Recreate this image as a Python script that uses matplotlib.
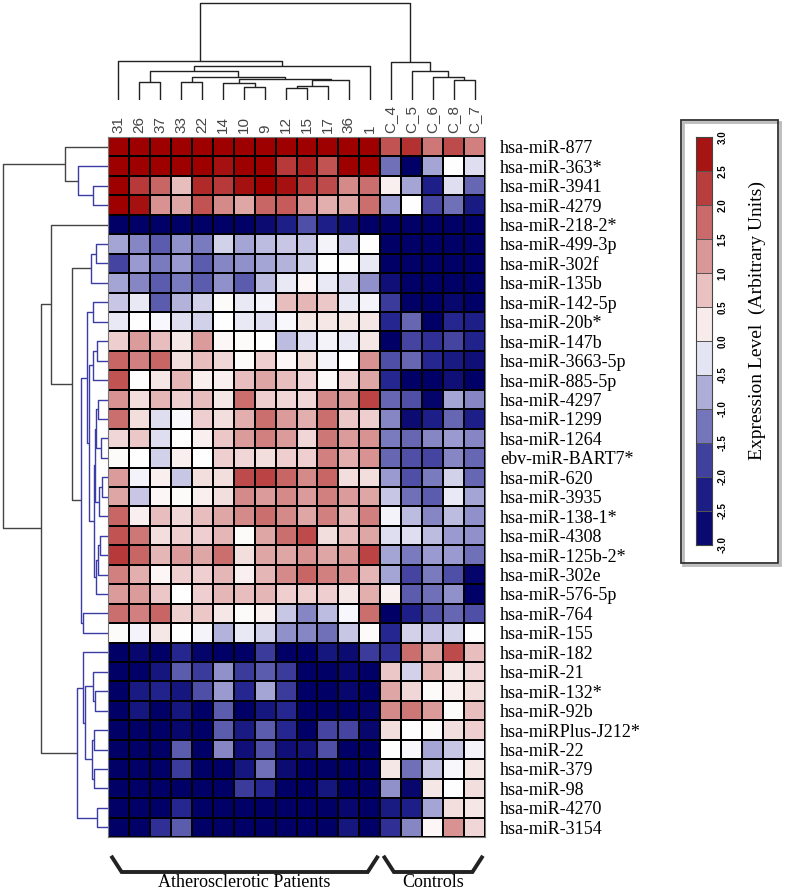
import numpy as np
import matplotlib
matplotlib.use('Agg')
import matplotlib.pyplot as plt
from matplotlib.colors import LinearSegmentedColormap
from matplotlib.patches import Rectangle

# ---- data -------------------------------------------------------------
row_labels = ['hsa-miR-877', 'hsa-miR-363*', 'hsa-miR-3941', 'hsa-miR-4279',
              'hsa-miR-218-2*', 'hsa-miR-499-3p', 'hsa-miR-302f', 'hsa-miR-135b',
              'hsa-miR-142-5p', 'hsa-miR-20b*', 'hsa-miR-147b', 'hsa-miR-3663-5p',
              'hsa-miR-885-5p', 'hsa-miR-4297', 'hsa-miR-1299', 'hsa-miR-1264',
              'ebv-miR-BART7*', 'hsa-miR-620', 'hsa-miR-3935', 'hsa-miR-138-1*',
              'hsa-miR-4308', 'hsa-miR-125b-2*', 'hsa-miR-302e', 'hsa-miR-576-5p',
              'hsa-miR-764', 'hsa-miR-155', 'hsa-miR-182', 'hsa-miR-21',
              'hsa-miR-132*', 'hsa-miR-92b', 'hsa-miRPlus-J212*', 'hsa-miR-22',
              'hsa-miR-379', 'hsa-miR-98', 'hsa-miR-4270', 'hsa-miR-3154']

patient_labels = ['31', '26', '37', '33', '22', '14', '10', '9', '12', '15', '17', '36', '1']
control_labels = ['C_4', 'C_5', 'C_6', 'C_8', 'C_7']
group_names = ['Atherosclerotic Patients', 'Controls']

patient_expr = [
    [3, 3, 3, 3, 3, 3, 3, 3, 3, 3, 3, 3, 3],
    [3, 3, 3, 3, 3, 2.8, 3, 3, 2.3, 2.6, 2.0, 3, 3],
    [3, 2.3, 1.8, 0.8, 2.5, 2.3, 2.8, 3, 2.8, 2.3, 2.1, 1.4, 1.7],
    [3, 2.8, 1.3, 1.1, 2.0, 1.4, 1.1, 1.8, 1.9, 1.3, 1.0, 1.1, 1.7],
    [-3, -3, -3, -3, -3, -3, -3, -2.7, -2.2, -1.6, -2.2, -2.7, -3],
    [-0.8, -1.1, -1.5, -1.0, -1.2, -0.4, -0.8, -0.6, -0.5, -0.5, -0.1, -0.5, 0],
    [-1.7, -0.9, -1.2, -0.9, -1.5, -1.1, -1.0, -0.8, -0.7, -0.4, 0, 0, -0.2],
    [-0.8, -1.1, -1.5, -1.2, -1.5, -1.0, -1.5, -0.6, -0.2, 0.1, -0.2, -0.4, -1.0],
    [-0.5, -0.2, -1.5, -0.7, -0.4, 0.05, -0.2, -0.1, 0.8, 0.9, 0.7, -0.2, -0.1],
    [-0.2, 0, -0.05, -0.3, -0.4, 0, -0.2, -0.3, -0.05, 0.3, 0.3, 0.3, 0.3],
    [0.6, 1.2, 0.8, 0.3, 1.2, 0.1, 0.05, 0, -0.6, -0.3, -0.1, -0.2, 0.3],
    [1.8, 1.5, 1.8, 0.4, 0.8, 0.5, 0.05, 0.6, 0.1, 0.4, -0.1, 0, 1.3],
    [2.0, 0, 0.3, 0.9, 0.2, 0.2, 0.8, 1.1, 0.8, 0.5, 0.05, 0.5, 1.1],
    [1.3, 0.4, 0.9, 0.6, 0.8, 0.3, 1.7, 0.6, 0.5, 0.5, 1.4, 1.2, 2.2],
    [1.7, 0.4, -0.3, -0.05, 0.6, 0.4, 1.0, 1.7, 1.2, 1.0, 1.7, 0.7, 0.6],
    [0.5, 0.7, -0.3, 0, 0.2, 0.7, 1.2, 1.5, 1.2, 0.5, 1.6, 1.2, 1.3],
    [0.05, 0, -0.4, 0.2, 0, 0.6, 0.5, 0.4, 0.6, 0.6, 1.5, 1.0, 1.3],
    [1.2, -0.1, 0.2, -0.5, 0.4, 0.4, 2.1, 2.2, 1.8, 1.4, 1.8, 0.4, 0.4],
    [1.1, -0.5, 0.1, 0.05, 0.2, 0.4, 1.4, 1.2, 1.4, 1.2, 1.5, 1.2, 1.1],
    [1.8, 0.2, 0.8, 0.5, 0.8, 1.1, 1.4, 1.7, 1.4, 1.1, 1.5, 0.9, 1.5],
    [2.0, 1.6, 0.4, 0.6, 0.6, 0.9, 0.05, 1.1, 1.7, 2.1, 0.4, 0.8, 1.1],
    [2.3, 1.8, 0.9, 1.2, 1.1, 1.7, 0.4, 1.1, 1.1, 1.3, 1.1, 1.2, 2.2],
    [1.5, 1.0, 0.1, 0.6, 0.6, 0.9, 0.2, 0.9, 1.4, 1.8, 1.5, 1.3, 0.9],
    [1.2, 1.2, 0.7, 0, 0.6, 0.9, 0.8, 0.9, 0.6, 0.6, 0.6, 0.3, 1.0],
    [1.7, 1.5, 1.8, 0.6, 0.7, 0.3, 0.05, 0.2, -0.5, -1.1, -0.6, -0.05, 1.7],
    [0.05, -0.1, 0.3, 0, -0.1, -0.7, -0.2, -0.4, -1.0, -1.1, -1.3, -0.5, 0.05],
    [-3, -2.8, -3, -2.0, -2.9, -3, -3, -1.8, -3, -3, -2.4, -2.7, -1.8],
    [-3, -3, -2.4, -1.5, -1.8, -1.0, -1.8, -1.5, -1.8, -3, -3, -2.8, -3],
    [-3, -2.3, -2.1, -2.4, -1.6, -0.9, -2.0, -0.8, -1.8, -3, -3, -2.8, -3],
    [-3, -2.4, -3, -2.4, -3, -1.5, -3, -2.4, -2.0, -3, -3, -3, -2.9],
    [-3, -3, -3, -2.8, -3, -1.5, -2.3, -1.5, -2.0, -3, -1.7, -1.7, -2.8],
    [-3, -3, -3, -1.5, -3, -1.1, -2.6, -1.6, -2.6, -2.5, -1.6, -3, -3],
    [-3, -3, -3, -1.8, -3, -3, -2.4, -1.3, -2.7, -3, -3, -3, -3],
    [-3, -3, -3, -3, -3, -3, -1.8, -2.0, -3, -3, -2.4, -3, -3],
    [-3, -3, -3, -2.0, -3, -3, -3, -3, -3, -3, -3, -2.8, -3],
    [-3, -3, -1.9, -1.5, -3, -3, -3, -3, -3, -3, -3, -2.4, -3],
]

control_expr = [
    [2.0, 2.4, 1.6, 2.1, 1.5],
    [-1.3, -3, -0.8, 0, -0.3],
    [0.2, -0.8, -2.2, -0.3, -1.4],
    [-0.9, 0, -1.7, -1.3, -2.3],
    [-3, -3, -3, -3, -3],
    [-3, -3, -3, -3, -3],
    [-3, -3, -3, -3, -3],
    [-2.6, -3, -3, -3, -3],
    [-1.8, -3, -3, -2.8, -3],
    [-2.0, -1.4, -3, -2.0, -2.2],
    [-3, -1.7, -1.9, -1.7, -2.1],
    [-1.6, -1.4, -2.0, -2.3, -2.6],
    [-2.0, -3, -3, -2.6, -3],
    [-1.4, -1.6, -2.9, -0.8, -1.1],
    [-1.1, -2.7, -2.2, -1.4, -2.2],
    [-1.2, -1.4, -1.1, -0.9, -1.1],
    [-1.4, -1.6, -1.7, -1.1, -1.4],
    [-0.9, -1.6, -1.2, -0.4, -1.4],
    [-0.5, -1.3, -1.5, -0.2, -0.8],
    [-0.1, -0.6, -1.1, -0.6, -1.0],
    [-0.3, -0.3, -0.6, -0.9, -1.0],
    [-0.8, -1.2, -0.9, -0.9, -1.3],
    [-0.8, -1.7, -1.2, -1.6, -2.9],
    [0.2, -1.5, -1.3, -1.0, -3],
    [-3, -2.2, -1.6, -1.4, -1.6],
    [-2.0, -0.4, -0.5, -0.4, 0],
    [-1.9, 1.7, 1.1, 2.1, 0.8],
    [0.7, -0.4, 0.9, 0.3, 0.5],
    [1.1, 0.5, 0.05, 0.2, 0.4],
    [1.4, 1.6, 1.2, 0.05, 0.8],
    [0.4, 0, 0.05, 0.4, 0.6],
    [0, -0.05, -0.8, -0.5, -0.1],
    [0.3, -1.3, -0.5, -0.05, 0.3],
    [-1.0, -2.8, 0.3, 0, 0.4],
    [-2.3, -2.2, -0.8, 0.4, 0.3],
    [-1.9, -1.1, 0.1, 1.3, 0.5],
]

# dendrograms as nested (left, right, height); ints are leaf indices
row_tree = (
    (0, (1, (2, 3, 15), 30), 43),
    (
        (4,
         (((5, 6, 12), 7, 17),
          (((8, 9, 15),
            (((10, 11, 11), 12, 15),
             ((((13, 14, 10), (15, 16, 7), 12), ((17, 18, 6), 19, 9), 13),
              (((20, 21, 8), 22, 10), 23, 12.5), 14), 19), 21),
           (24, 25, 25), 27), 36), 57),
        ((26, ((27, (28, 29, 13), 15), ((30, 31, 14), (32, 33, 14), 16), 23), 25),
         (34, 35, 11), 31),
        67),
    105)

col_tree = (
    (0, (((1, 2, 18),
           ((3, 4, 18),
            ((5, (6, 7, 13), 17), ((((8, 9, 12), 10, 14), 11, 20)), 21), 23), 29),
          12, 34), 39),
    (13, (14, (15, (16, 17, 20), 23), 29), 38),
    97)

# ---- style ------------------------------------------------------------
W, H = 787, 893
cmap = LinearSegmentedColormap.from_list(
    'expr', [(0.0, '#000066'), (1 / 6, '#262690'), (1 / 3, '#9090cb'),
             (0.5, '#ffffff'), (2 / 3, '#e2aeae'), (5 / 6, '#c25454'), (1.0, '#9e0000')])
serif = ['Liberation Serif', 'DejaVu Serif']
sans = ['Liberation Sans', 'DejaVu Sans']


def fig_axes(fig, x0, y0, x1, y1):
    return fig.add_axes([x0 / W, 1 - y1 / H, (x1 - x0) / W, (y1 - y0) / H])


def draw_tree(ax, node, orient, color_fn):
    if isinstance(node, int):
        return node + 0.5, 0.0
    left, right, h = node
    p1, h1 = draw_tree(ax, left, orient, color_fn)
    p2, h2 = draw_tree(ax, right, orient, color_fn)
    pos = [p1, p1, p2, p2]
    hts = [h1, h, h, h2]
    c = color_fn(h)
    if orient == 'top':
        ax.plot(pos, hts, color=c, lw=1.0, solid_capstyle='butt')
    else:
        ax.plot(hts, pos, color=c, lw=1.0, solid_capstyle='butt')
    return (p1 + p2) / 2, h


values = np.hstack([np.array(patient_expr), np.array(control_expr)])
col_labels = patient_labels + control_labels
n_rows, n_cols = values.shape

fig = plt.figure(figsize=(W / 100, H / 100), dpi=100)

# heatmap
ax = fig_axes(fig, 108, 137, 485, 837)
ax.pcolormesh(values, cmap=cmap, vmin=-3, vmax=3, edgecolors='black', linewidth=1.4)
ax.set_xlim(0, n_cols)
ax.set_ylim(n_rows, 0)
ax.yaxis.tick_right()
ax.set_yticks(np.arange(n_rows) + 0.5)
ax.set_yticklabels(row_labels, family=serif, fontsize=13)
ax.tick_params(axis='y', length=0, pad=11)
ax.set_xticks([])
for s in ax.spines.values():
    s.set_color('#777777')

# column labels
for i, lab in enumerate(col_labels):
    ax.text(i + 0.5, -0.22, lab, rotation=90, ha='center', va='bottom',
            family=sans, fontsize=11, color='#444444')

# group brackets below the heatmap
groups = [(0, len(patient_labels)), (len(patient_labels), n_cols)]
for name, (a, b) in zip(group_names, groups):
    xs = [a + 0.2, a + 0.65, b - 0.6, b - 0.15]
    ys = [n_rows + 1.05, n_rows + 1.8, n_rows + 1.8, n_rows + 1.05]
    ax.plot(xs, ys, color='#222222', lw=2.8, clip_on=False, solid_joinstyle='miter')
    ax.text((a + b) / 2, n_rows + 2.35, name, ha='center', va='center',
            family=serif, fontsize=13)

# column dendrogram
axc = fig_axes(fig, 108, 0, 485, 100)
draw_tree(axc, col_tree, 'top', lambda h: '#222222')
axc.set_xlim(0, n_cols)
axc.set_ylim(0, 100)
axc.axis('off')

# row dendrogram
axr = fig_axes(fig, 0, 137, 108, 837)
draw_tree(axr, row_tree, 'left', lambda h: '#444444' if h > 33 else '#3c3ca6')
axr.set_xlim(108, 0)
axr.set_ylim(n_rows, 0)
axr.axis('off')

# legend box with colour scale
box = fig_axes(fig, 0, 0, W, H)
box.set_xlim(0, W)
box.set_ylim(H, 0)
box.axis('off')
box.add_patch(Rectangle((683, 122), 97, 443, fill=False, edgecolor='#bbbbbb', lw=2.0))
box.add_patch(Rectangle((681, 120), 97, 443, fill=False, edgecolor='#333333', lw=1.3))
box.set_zorder(-1)

bounds = np.arange(-3, 3.01, 0.5)
mids = (bounds[:-1] + bounds[1:]) / 2
cax = fig_axes(fig, 696, 137, 712, 545)
cax.pcolormesh([0, 1], bounds, mids[:, None], cmap=cmap, vmin=-3, vmax=3,
               edgecolors='#555555', linewidth=0.6)
cax.set_ylim(-3, 3)
cax.set_xticks([])
cax.yaxis.tick_right()
cax.set_yticks(bounds)
cax.set_yticklabels(['%.1f' % b for b in bounds], rotation=90, va='center',
                    fontsize=7, fontweight='bold', family=sans)
cax.tick_params(axis='y', length=0, pad=4)
for s in cax.spines.values():
    s.set_color('#444444')
    s.set_linewidth(0.8)
fig.text(757 / W, 1 - 321 / H, 'Expression Level  (Arbitrary Units)', rotation=90,
         ha='center', va='center', family=serif, fontsize=14)

fig.savefig('out.png', dpi=100)
